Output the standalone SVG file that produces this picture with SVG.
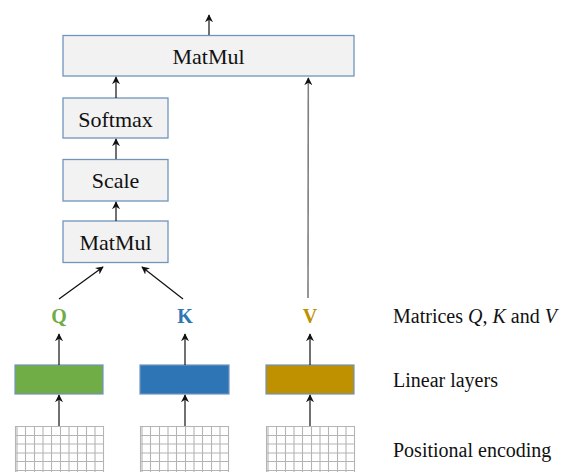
<svg xmlns="http://www.w3.org/2000/svg" xmlns:xlink="http://www.w3.org/1999/xlink" width="561" height="472" viewBox="0 0 561 472">
  <style>
    .op { fill: #F2F2F2; stroke: #7194BC; stroke-width: 1.3; }
    .op-label { font-family: "Liberation Serif", "Times New Roman", serif; font-size: 22px; fill: #111; text-anchor: middle; }
    .lin { stroke: #7194BC; stroke-width: 1.2; }
    .mat { font-family: "Liberation Serif", "Times New Roman", serif; font-size: 20px; font-weight: bold; text-anchor: middle; }
    .legend { font-family: "Liberation Serif", "Times New Roman", serif; font-size: 20px; fill: #111; }
    .edge { stroke: #111; stroke-width: 1.2; fill: none; marker-end: url(#head); }
    .edge-grey { stroke: #808080; stroke-width: 1.6; fill: none; marker-end: url(#head); }
    .grid line { stroke: #B4B4B4; stroke-width: 1.1; }
  </style>
  <defs>
    <marker id="head" viewBox="0 0 10 10" refX="9" refY="5" markerWidth="8" markerHeight="8" markerUnits="userSpaceOnUse" orient="auto">
      <path d="M0,0 L10,5 L0,10 L3,5 z" fill="#111"/>
    </marker>
    <!-- embedding matrix drawn as a cell grid -->
    <g id="grid" class="grid">
      <line x1="0.5" y1="0" x2="0.5" y2="60"/>
      <line x1="2" y1="0" x2="2" y2="60"/>
      <line x1="10.5" y1="0" x2="10.5" y2="60"/>
      <line x1="19.5" y1="0" x2="19.5" y2="60"/>
      <line x1="28" y1="0" x2="28" y2="60"/>
      <line x1="36.5" y1="0" x2="36.5" y2="60"/>
      <line x1="45.5" y1="0" x2="45.5" y2="60"/>
      <line x1="54" y1="0" x2="54" y2="60"/>
      <line x1="62.5" y1="0" x2="62.5" y2="60"/>
      <line x1="71.5" y1="0" x2="71.5" y2="60"/>
      <line x1="80" y1="0" x2="80" y2="60"/>
      <line x1="88.5" y1="0" x2="88.5" y2="60"/>
      <line x1="0" y1="0.5" x2="89" y2="0.5"/>
      <line x1="0" y1="9.5" x2="89" y2="9.5"/>
      <line x1="0" y1="18" x2="89" y2="18"/>
      <line x1="0" y1="27" x2="89" y2="27"/>
      <line x1="0" y1="35.5" x2="89" y2="35.5"/>
      <line x1="0" y1="44.5" x2="89" y2="44.5"/>
      <line x1="0" y1="53" x2="89" y2="53"/>
    </g>
  </defs>

  <rect width="561" height="472" fill="#FFFFFF"/>

  <!-- positional encoding inputs -->
  <g id="pe-q"><use xlink:href="#grid" href="#grid" x="15" y="426"/></g>
  <g id="pe-k"><use xlink:href="#grid" href="#grid" x="140" y="426"/></g>
  <g id="pe-v"><use xlink:href="#grid" href="#grid" x="266" y="426"/></g>

  <!-- linear projections -->
  <g id="linear-q"><rect class="lin" x="15" y="365" width="88" height="29" fill="#70AD47"/></g>
  <g id="linear-k"><rect class="lin" x="140" y="365" width="89" height="29" fill="#2E75B6"/></g>
  <g id="linear-v"><rect class="lin" x="266" y="365" width="88" height="29" fill="#BF9000"/></g>

  <!-- Q, K, V matrices -->
  <g id="q"><text class="mat" x="59" y="323" fill="#70AD47">Q</text></g>
  <g id="k"><text class="mat" x="185" y="323" fill="#2E75B6">K</text></g>
  <g id="v"><text class="mat" x="310" y="323" fill="#BF9000">V</text></g>

  <!-- attention operations -->
  <g id="matmul-qk">
    <rect class="op" x="63" y="221" width="105" height="41.5"/>
    <text class="op-label" x="115.5" y="250">MatMul</text>
  </g>
  <g id="scale">
    <rect class="op" x="63" y="159.5" width="105" height="41.5"/>
    <text class="op-label" x="115.5" y="187.5">Scale</text>
  </g>
  <g id="softmax">
    <rect class="op" x="63" y="98" width="105" height="40"/>
    <text class="op-label" x="115.5" y="126.5">Softmax</text>
  </g>
  <g id="matmul-v">
    <rect class="op" x="63" y="35.5" width="291" height="40.5"/>
    <text class="op-label" x="208.5" y="64">MatMul</text>
  </g>

  <!-- connectors -->
  <g id="connectors">
    <line class="edge" x1="59" y1="426" x2="59" y2="395"/>
    <line class="edge" x1="185" y1="426" x2="185" y2="395"/>
    <line class="edge" x1="310" y1="426" x2="310" y2="395"/>
    <line class="edge" x1="59" y1="365" x2="59" y2="334"/>
    <line class="edge" x1="185" y1="365" x2="185" y2="334"/>
    <line class="edge" x1="310" y1="365" x2="310" y2="334"/>
    <line class="edge" x1="59" y1="299" x2="103" y2="267"/>
    <line class="edge" x1="183" y1="299" x2="142" y2="267"/>
    <line class="edge-grey" x1="308" y1="298" x2="308.3" y2="78"/>
    <line class="edge" x1="116" y1="221" x2="116" y2="202"/>
    <line class="edge" x1="116" y1="159" x2="116" y2="139"/>
    <line class="edge" x1="116" y1="98" x2="116" y2="77"/>
    <line class="edge" x1="209" y1="35" x2="209" y2="15"/>
  </g>

  <!-- legend -->
  <g id="legend">
    <text class="legend" x="393" y="323">Matrices <tspan font-style="italic">Q</tspan>, <tspan font-style="italic">K</tspan> and <tspan font-style="italic">V</tspan></text>
    <text class="legend" x="393" y="387">Linear layers</text>
    <text class="legend" x="393" y="457">Positional encoding</text>
  </g>
</svg>
